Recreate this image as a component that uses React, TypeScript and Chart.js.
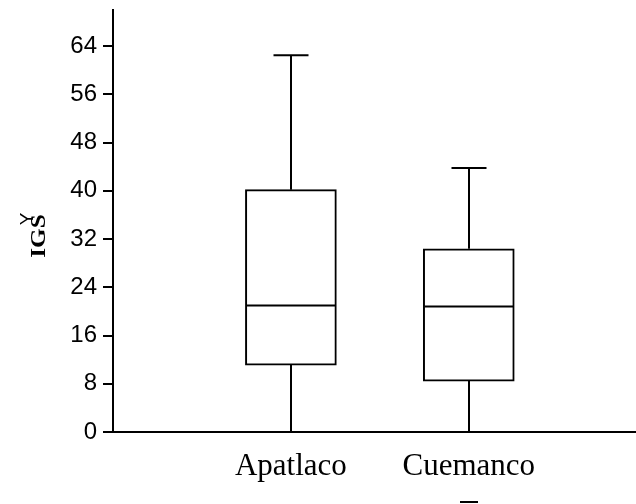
import React, { useEffect, useRef } from 'react';
import { Chart, registerables } from 'chart.js';

Chart.register(...registerables);

// ---- data ----
const categories = ['Apatlaco', 'Cuemanco'];
const positions = [1, 2];
const mins = [0, 0];
const q1s = [11.1, 8.45];
const medians = [21.0, 20.8];
const q3s = [40.2, 30.4];
const maxs = [62.5, 43.8];
const yTicks = [0, 8, 16, 24, 32, 40, 48, 56, 64];
const yTitle = 'IGS';
const yTitleMark = 'Y';

const boxPlugin = {
  id: 'boxWhiskers',
  afterDatasetsDraw(chart: any) {
    const { ctx } = chart;
    const x = chart.scales.x;
    const y = chart.scales.y;
    const meta = chart.getDatasetMeta(0);
    ctx.save();
    ctx.strokeStyle = '#000';
    ctx.lineWidth = 2;
    const line = (x1: number, y1: number, x2: number, y2: number) => {
      ctx.beginPath();
      ctx.moveTo(x1, y1);
      ctx.lineTo(x2, y2);
      ctx.stroke();
    };
    positions.forEach((p, i) => {
      const cx = Math.round(x.getPixelForValue(p));
      const bar = meta.data[i];
      const half = bar ? bar.width / 2 : 45;
      const cap = 17.5;
      const yMax = y.getPixelForValue(maxs[i]);
      const yMin = y.getPixelForValue(mins[i]);
      const yQ1 = y.getPixelForValue(q1s[i]);
      const yQ3 = y.getPixelForValue(q3s[i]);
      const yMed = y.getPixelForValue(medians[i]);
      line(cx, yQ3, cx, yMax);
      line(cx, yQ1, cx, yMin);
      line(cx - cap, yMax, cx + cap, yMax);
      line(cx - cap, yMin, cx + cap, yMin);
      line(cx - half + 1, yMed, cx + half - 1, yMed);
    });
    ctx.restore();
  },
  afterDraw(chart: any) {
    const { ctx } = chart;
    ctx.save();
    ctx.fillStyle = '#000';
    ctx.translate(40, 236);
    ctx.rotate(-Math.PI / 2);
    ctx.scale(1.2, 1);
    ctx.font = 'bold 21px "Liberation Serif", "Times New Roman", serif';
    ctx.textAlign = 'center';
    ctx.textBaseline = 'middle';
    ctx.fillText(yTitle, 0, 0);
    ctx.restore();

    ctx.save();
    ctx.fillStyle = '#000';
    ctx.translate(28, 219);
    ctx.rotate(-Math.PI / 2);
    ctx.font = '19px "Liberation Sans", Arial, sans-serif';
    ctx.textAlign = 'center';
    ctx.textBaseline = 'middle';
    ctx.fillText(yTitleMark, 0, 0);
    ctx.restore();

    ctx.save();
    ctx.fillStyle = '#000';
    ctx.fillRect(460, 501, 18, 2);
    ctx.restore();
  },
};

export default function App() {
  const ref = useRef<HTMLCanvasElement | null>(null);

  useEffect(() => {
    if (!ref.current) return;
    const chart = new Chart(ref.current, {
      type: 'bar',
      data: {
        datasets: [
          {
            data: positions.map((p, i) => ({ x: p, y: [q1s[i], q3s[i]] })) as any,
            backgroundColor: '#ffffff',
            borderColor: '#000000',
            borderWidth: 2,
            borderSkipped: false,
            barThickness: 91,
          },
        ],
      },
      options: {
        animation: false,
        responsive: false,
        maintainAspectRatio: false,
        layout: { padding: { top: 10, left: 0, right: 0, bottom: 0 } },
        plugins: { legend: { display: false }, tooltip: { enabled: false } },
        scales: {
          x: {
            type: 'linear',
            offset: false,
            min: 0,
            max: 2.94,
            grid: { display: false, offset: false },
            border: { display: true, color: '#000', width: 2 },
            afterBuildTicks: (s: any) => {
              s.ticks = positions.map((v) => ({ value: v }));
            },
            afterFit: (s: any) => {
              s.height = 72;
              s.paddingLeft = 0;
              s.paddingRight = 0;
            },
            ticks: {
              autoSkip: false,
              maxRotation: 0,
              padding: 8,
              color: '#000',
              font: { family: '"Liberation Serif", "Times New Roman", serif', size: 31 },
              callback: (v: any) => {
                const k = positions.indexOf(Number(v));
                return k >= 0 ? categories[k] : '';
              },
            },
          },
          y: {
            min: 0,
            max: 70,
            afterBuildTicks: (s: any) => {
              s.ticks = yTicks.map((v) => ({ value: v }));
            },
            afterFit: (s: any) => {
              s.width = 113;
              s.paddingTop = 0;
              s.paddingBottom = 0;
            },
            grid: {
              display: true,
              drawOnChartArea: false,
              drawTicks: true,
              tickLength: 10,
              color: '#000',
              lineWidth: 2,
            },
            border: { display: true, color: '#000', width: 2 },
            ticks: {
              padding: 6,
              color: '#000',
              font: { family: '"Liberation Sans", Arial, sans-serif', size: 24 },
            },
          },
        },
      },
      plugins: [boxPlugin],
    });
    return () => chart.destroy();
  }, []);

  return (
    <div style={{ position: 'fixed', left: 0, top: 0, width: 636, height: 504, background: '#fff' }}>
      <canvas ref={ref} width={636} height={504} style={{ display: 'block' }} />
    </div>
  );
}
